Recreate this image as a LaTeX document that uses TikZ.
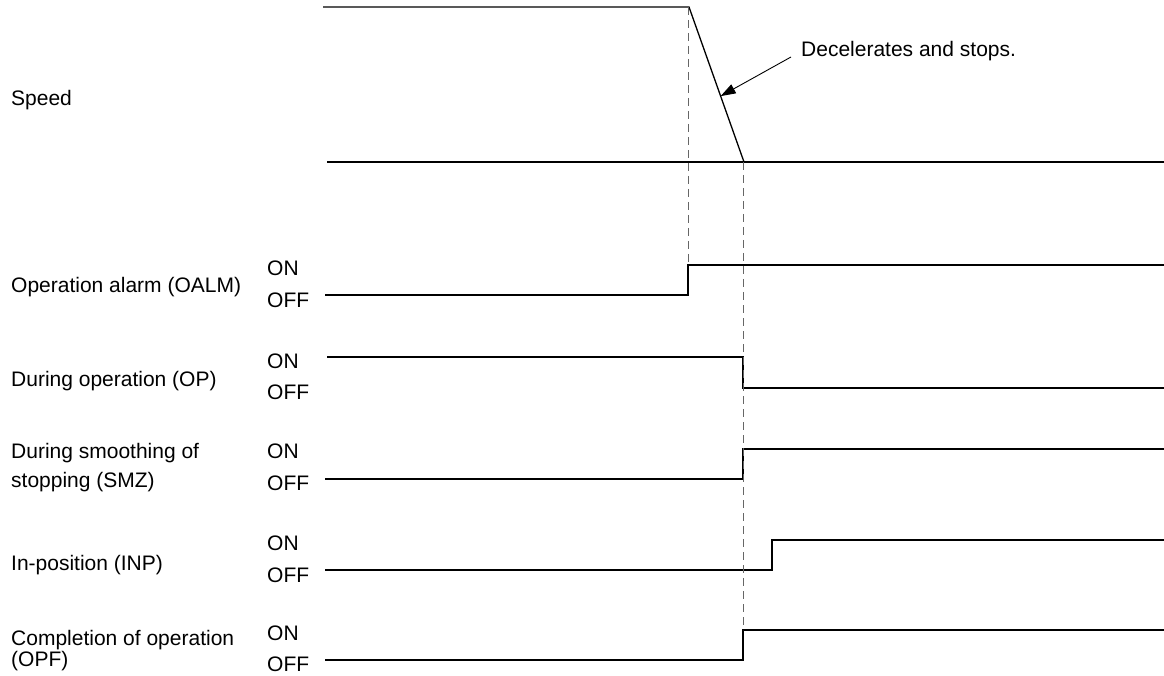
\documentclass[tikz,border=0pt]{standalone}
\usepackage{fontspec}
\setmainfont{Liberation Sans}
\usetikzlibrary{arrows.meta,calc}
\begin{document}
\begin{tikzpicture}[x=1pt,y=-1pt,
  sig/.style={line width=1.3pt,draw=black},
  guide/.style={line width=1pt,draw=black!60,dash pattern=on 8pt off 5pt},
  callout/.style={line width=0.9pt,draw=black,-{Triangle[length=15pt,width=10pt]}},
  lbl/.style={anchor=base west,inner sep=0pt,font=\fontsize{21}{26}\selectfont}]
\useasboundingbox (0,0) rectangle (1164,676);

% ---------- Speed ----------
\coordinate (s0) at (323,7);
\coordinate (s1) at (689,7);
\coordinate (s2) at (744,162);
\coordinate (s3) at (327,162);
\coordinate (s4) at (1164,162);
\draw[sig] (s0) -- (s1) -- (s2);
\draw[sig] (s3) -- (s4);
\node[lbl] (speed) at (11,106) {Speed};
\node[lbl] (decel) at (801,57) {Decelerates and stops.};
\coordinate (arrtail) at (791,57);
\coordinate (arrtip) at ($(s1)!0.575!(s2)$);
\draw[callout] (arrtail) -- (arrtip);

% ---------- Operation alarm ----------
\coordinate (a0) at (325,295);
\coordinate (a1) at (688,295);
\coordinate (a2) at (688,265);
\coordinate (a3) at (1164,265);
\draw[sig] (a0) -- (a1) -- (a2) -- (a3);
\node[lbl] (oalm) at (11,293) {Operation alarm (OALM)};
\node[lbl] (oalmon) at (267,276) {ON};
\node[lbl] (oalmoff) at (267,307) {OFF};

% ---------- During operation ----------
\coordinate (p0) at (327,357);
\coordinate (p1) at (743,357);
\coordinate (p2) at (743,388);
\coordinate (p3) at (1164,388);
\draw[sig] (p0) -- (p1) -- (p2) -- (p3);
\node[lbl] (op) at (11,386) {During operation (OP)};
\node[lbl] (opon) at (267,368) {ON};
\node[lbl] (opoff) at (267,399) {OFF};

% ---------- SMZ ----------
\coordinate (m0) at (325,479);
\coordinate (m1) at (743,479);
\coordinate (m2) at (743,449);
\coordinate (m3) at (1164,449);
\draw[sig] (m0) -- (m1) -- (m2) -- (m3);
\node[lbl] (smz1) at (11,458) {During smoothing of};
\node[lbl] (smz2) at (11,487) {stopping (SMZ)};
\node[lbl] (smzon) at (267,458) {ON};
\node[lbl] (smzoff) at (267,490) {OFF};

% ---------- INP ----------
\coordinate (i0) at (325,570);
\coordinate (i1) at (772,570);
\coordinate (i2) at (772,540);
\coordinate (i3) at (1164,540);
\draw[sig] (i0) -- (i1) -- (i2) -- (i3);
\node[lbl] (inp) at (11,570) {In-position (INP)};
\node[lbl] (inpon) at (267,550) {ON};
\node[lbl] (inpoff) at (267,582) {OFF};

% ---------- OPF ----------
\coordinate (f0) at (325,660);
\coordinate (f1) at (743,660);
\coordinate (f2) at (743,630);
\coordinate (f3) at (1164,630);
\draw[sig] (f0) -- (f1) -- (f2) -- (f3);
\node[lbl] (opf1) at (11,645) {Completion of operation};
\node[lbl] (opf2) at (11,666) {(OPF)};
\node[lbl] (opfon) at (267,640) {ON};
\node[lbl] (opfoff) at (267,671) {OFF};

% ---------- guide lines ----------
\draw[guide] (688,7) -- (a2);
\draw[guide] (743,162) -- (f2);
\end{tikzpicture}
\end{document}
